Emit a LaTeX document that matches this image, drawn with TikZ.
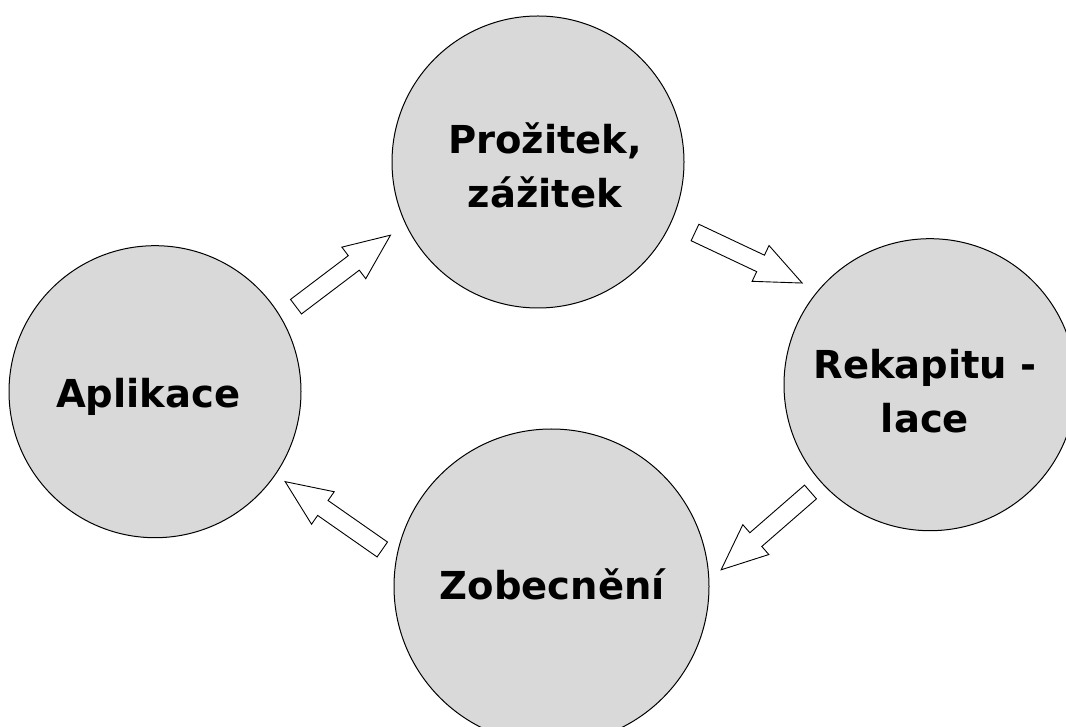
\documentclass[tikz,border=0pt]{standalone}
\usepackage{fontspec}
\setmainfont{DejaVu Sans}
\definecolor{circfill}{HTML}{D9D9D9}
\begin{document}
\begin{tikzpicture}[x=1pt,y=1pt,
  stage/.style={circle,draw=black,line width=1pt,fill=circfill,inner sep=0pt},
  lbl/.style={align=center,font=\fontsize{38.5}{54}\selectfont\bfseries,inner sep=0pt},
  arrowline/.style={draw=black,fill=white,line width=0.9pt,line join=miter},
  blockarrow/.pic={\path[arrowline] (0,-9.1) -- (72.5,-9.1) -- (72.5,-19.8) -- (118.5,0) -- (72.5,19.8) -- (72.5,9.1) -- (0,9.1) -- cycle;}
]
\useasboundingbox (0,0) rectangle (1066,726);
\clip (0,0) rectangle (1066,726);
\fill[white] (0,0) rectangle (1066,726);

% circles
\node[stage,minimum size=292pt] (top) at (538,564) {};
\node[stage,minimum size=292pt] (left) at (155,334.3) {};
\node[stage,minimum size=292pt] (right) at (930,341.3) {};
\node[stage,minimum size=315pt] (bottom) at (551.5,139.5) {};

% labels
\node[lbl] (ttop) at (545,561) {Prožitek,\\zážitek};
\node[lbl,anchor=base] (tleft) at (148.3,318.3) {Aplikace};
\node[lbl] (tright) at (925,334.7) {Rekapitu -\\lace};
\node[lbl,anchor=base] (tbottom) at (552.4,126) {Zobecnění};

% block arrows
\coordinate (t1) at (296,419.3);
\coordinate (t2) at (695,493.5);
\coordinate (t3) at (810.5,234);
\coordinate (t4) at (382.3,176.5);
\pic[rotate=37.13] (a1) at (t1) {blockarrow};
\pic[rotate=-25.25] (a2) at (t2) {blockarrow};
\pic[rotate=221.04] (a3) at (t3) {blockarrow};
\pic[rotate=145.06] (a4) at (t4) {blockarrow};
\end{tikzpicture}
\end{document}
